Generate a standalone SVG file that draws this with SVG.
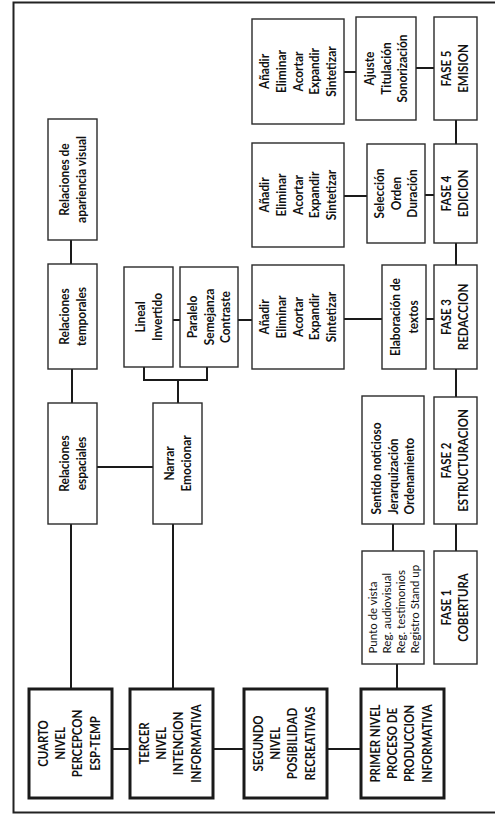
<svg xmlns="http://www.w3.org/2000/svg" width="495" height="815" viewBox="0 0 495 815">
<style>
.b{fill:#fff;stroke:#2a2a2a;stroke-width:1.4}
.k{fill:#fff;stroke:#1a1a1a;stroke-width:3}
.t{font-family:Lato,"Open Sans","DejaVu Sans",sans-serif;font-weight:bold;font-size:13.5px;fill:#111;text-anchor:middle}
.c{font-size:13px}
.s{font-family:Lato,"Open Sans","DejaVu Sans",sans-serif;font-weight:normal;font-size:11.5px;fill:#111;text-anchor:start}
.ln{stroke:#1a1a1a;stroke-width:2;fill:none}
.fr{stroke:#222;stroke-width:2;fill:none}
</style>
<rect x="0" y="0" width="495" height="815" fill="#fff"/>
<path class="fr" d="M500,2.5 H13.5 V812.5 H500"/>
<g id="connectors">
<path class="ln" d="M344,72 H356"/>
<path class="ln" d="M416,68 H434"/>
<path class="ln" stroke-width="2.5" d="M456,120 V144"/>
<path class="ln" d="M344,196 H367"/>
<path class="ln" d="M425,195 H434"/>
<path class="ln" stroke-width="2.5" d="M456,243 V265"/>
<path class="ln" d="M71,240 V264"/>
<path class="ln" d="M173,320 H180"/>
<path class="ln" d="M238,320 H252"/>
<path class="ln" d="M344,319 H382"/>
<path class="ln" d="M426,319 H434"/>
<path class="ln" d="M144,367 V380 H207 V367"/>
<path class="ln" d="M178,380 V403"/>
<path class="ln" d="M72,369 V403"/>
<path class="ln" d="M97,467 H153"/>
<path class="ln" stroke-width="2.5" d="M456,369 V397"/>
<path class="ln" stroke-width="2.5" d="M393,524 V551"/>
<path class="ln" stroke-width="2.5" d="M456,524 V551"/>
<path class="ln" d="M71,524 V689"/>
<path class="ln" d="M173,524 V689"/>
<path class="ln" stroke-width="2.5" d="M397,664 V689"/>
<path class="ln" stroke-width="2.5" d="M112,749 H130"/>
<path class="ln" stroke-width="2.5" d="M213,749 H244"/>
<path class="ln" stroke-width="2.5" d="M327,749 H361"/>
</g>
<g id="n_f5_ops"><rect class="b" x="252" y="19" width="92" height="105"/>
<text class="t" transform="translate(298,71.5) rotate(-90) scale(0.88,1)"><tspan x="0" y="-29.5">Añadir</tspan><tspan x="0" y="-12.5">Eliminar</tspan><tspan x="0" y="4.5">Acortar</tspan><tspan x="0" y="21.5">Expandir</tspan><tspan x="0" y="38.5">Sintetizar</tspan></text></g>
<g id="n_ajuste"><rect class="b" x="356" y="17" width="60" height="103"/>
<text class="t" transform="translate(386,68.5) rotate(-90) scale(0.88,1)"><tspan x="0" y="-12.5">Ajuste</tspan><tspan x="0" y="4.5">Titulación</tspan><tspan x="0" y="21.5">Sonorización</tspan></text></g>
<g id="n_fase5"><rect class="b" x="434" y="17" width="43" height="103"/>
<text class="t c" transform="translate(455.5,68.5) rotate(-90) scale(0.88,1)"><tspan x="0" y="-4.5">FASE 5</tspan><tspan x="0" y="13">EMISION</tspan></text></g>
<g id="n_f4_ops"><rect class="b" x="252" y="143" width="92" height="104"/>
<text class="t" transform="translate(298,195) rotate(-90) scale(0.88,1)"><tspan x="0" y="-29.5">Añadir</tspan><tspan x="0" y="-12.5">Eliminar</tspan><tspan x="0" y="4.5">Acortar</tspan><tspan x="0" y="21.5">Expandir</tspan><tspan x="0" y="38.5">Sintetizar</tspan></text></g>
<g id="n_seleccion"><rect class="b" x="367" y="144" width="58" height="99"/>
<text class="t" transform="translate(396,193.5) rotate(-90) scale(0.88,1)"><tspan x="0" y="-12.5">Selección</tspan><tspan x="0" y="4.5">Orden</tspan><tspan x="0" y="21.5">Duración</tspan></text></g>
<g id="n_fase4"><rect class="b" x="434" y="144" width="43" height="99"/>
<text class="t c" transform="translate(455.5,193.5) rotate(-90) scale(0.88,1)"><tspan x="0" y="-4.5">FASE 4</tspan><tspan x="0" y="13">EDICION</tspan></text></g>
<g id="n_apariencia"><rect class="b" x="48" y="119" width="49" height="121"/>
<text class="t" transform="translate(72.5,179.5) rotate(-90) scale(0.88,1)"><tspan x="0" y="-4">Relaciones de</tspan><tspan x="0" y="14">apariencia visual</tspan></text></g>
<g id="n_temporales"><rect class="b" x="48" y="264" width="49" height="105"/>
<text class="t" transform="translate(72.5,316.5) rotate(-90) scale(0.88,1)"><tspan x="0" y="-4">Relaciones</tspan><tspan x="0" y="14">temporales</tspan></text></g>
<g id="n_lineal"><rect class="b" x="124" y="267" width="49" height="100"/>
<text class="t" transform="translate(148.5,317) rotate(-90) scale(0.88,1)"><tspan x="0" y="-4">Lineal</tspan><tspan x="0" y="14">Invertido</tspan></text></g>
<g id="n_paralelo"><rect class="b" x="180" y="267" width="58" height="100"/>
<text class="t" transform="translate(209,317) rotate(-90) scale(0.88,1)"><tspan x="0" y="-12.5">Paralelo</tspan><tspan x="0" y="4.5">Semejanza</tspan><tspan x="0" y="21.5">Contraste</tspan></text></g>
<g id="n_f3_ops"><rect class="b" x="252" y="265" width="92" height="104"/>
<text class="t" transform="translate(298,317) rotate(-90) scale(0.88,1)"><tspan x="0" y="-29.5">Añadir</tspan><tspan x="0" y="-12.5">Eliminar</tspan><tspan x="0" y="4.5">Acortar</tspan><tspan x="0" y="21.5">Expandir</tspan><tspan x="0" y="38.5">Sintetizar</tspan></text></g>
<g id="n_elaboracion"><rect class="b" x="382" y="265" width="44" height="104"/>
<text class="t" transform="translate(404,317) rotate(-90) scale(0.88,1)"><tspan x="0" y="-4">Elaboración de</tspan><tspan x="0" y="14">textos</tspan></text></g>
<g id="n_fase3"><rect class="b" x="434" y="265" width="43" height="104"/>
<text class="t c" transform="translate(455.5,317) rotate(-90) scale(0.88,1)"><tspan x="0" y="-4.5">FASE 3</tspan><tspan x="0" y="13">REDACCION</tspan></text></g>
<g id="n_espaciales"><rect class="b" x="48" y="403" width="49" height="121"/>
<text class="t" transform="translate(72.5,463.5) rotate(-90) scale(0.88,1)"><tspan x="0" y="-4">Relaciones</tspan><tspan x="0" y="14">espaciales</tspan></text></g>
<g id="n_narrar"><rect class="b" x="153" y="403" width="49" height="121"/>
<text class="t" transform="translate(177.5,463.5) rotate(-90) scale(0.88,1)"><tspan x="0" y="-4">Narrar</tspan><tspan x="0" y="14">Emocionar</tspan></text></g>
<g id="n_sentido"><rect class="b" x="362" y="396" width="62" height="128"/>
<text class="t" style="text-anchor:start" transform="translate(393,460) rotate(-90) scale(0.88,1)"><tspan x="-62" y="-12.5">Sentido noticioso</tspan><tspan x="-62" y="4.5">Jerarquización</tspan><tspan x="-62" y="21.5">Ordenamiento</tspan></text></g>
<g id="n_fase2"><rect class="b" x="434" y="397" width="43" height="127"/>
<text class="t c" transform="translate(455.5,460.5) rotate(-90) scale(0.88,1)"><tspan x="0" y="-4.5">FASE 2</tspan><tspan x="0" y="13">ESTRUCTURACION</tspan></text></g>
<g id="n_punto"><rect class="b" x="362" y="551" width="62" height="113"/>
<text class="s" transform="translate(393,607.5) rotate(-90)"><tspan x="-46" y="-16">Punto de vista</tspan><tspan x="-46" y="-2">Reg. audiovisual</tspan><tspan x="-46" y="12">Reg. testimonios</tspan><tspan x="-46" y="26">Registro Stand up</tspan></text></g>
<g id="n_fase1"><rect class="b" x="434" y="551" width="43" height="113"/>
<text class="t c" transform="translate(455.5,607.5) rotate(-90) scale(0.88,1)"><tspan x="0" y="-4.5">FASE 1</tspan><tspan x="0" y="13">COBERTURA</tspan></text></g>
<g id="n_cuarto"><rect class="k" x="29" y="689" width="83" height="109"/>
<text class="t c" transform="translate(69,743.5) rotate(-90) scale(0.88,1)"><tspan x="0" y="-21.5">CUARTO</tspan><tspan x="0" y="-4">NIVEL</tspan><tspan x="0" y="13.5">PERCEPCON</tspan><tspan x="0" y="31">ESP-TEMP</tspan></text></g>
<g id="n_tercer"><rect class="k" x="130" y="689" width="83" height="109"/>
<text class="t c" transform="translate(170,743.5) rotate(-90) scale(0.88,1)"><tspan x="0" y="-21.5">TERCER</tspan><tspan x="0" y="-4">NIVEL</tspan><tspan x="0" y="13.5">INTENCION</tspan><tspan x="0" y="31">INFORMATIVA</tspan></text></g>
<g id="n_segundo"><rect class="k" x="244" y="689" width="83" height="109"/>
<text class="t c" transform="translate(284,743.5) rotate(-90) scale(0.88,1)"><tspan x="0" y="-21.5">SEGUNDO</tspan><tspan x="0" y="-4">NIVEL</tspan><tspan x="0" y="13.5">POSIBILIDAD</tspan><tspan x="0" y="31">RECREATIVAS</tspan></text></g>
<g id="n_primer"><rect class="k" x="361" y="689" width="83" height="109"/>
<text class="t c" transform="translate(401,743.5) rotate(-90) scale(0.88,1)"><tspan x="0" y="-21.5">PRIMER NIVEL</tspan><tspan x="0" y="-4">PROCESO DE</tspan><tspan x="0" y="13.5">PRODUCCION</tspan><tspan x="0" y="31">INFORMATIVA</tspan></text></g>
</svg>
